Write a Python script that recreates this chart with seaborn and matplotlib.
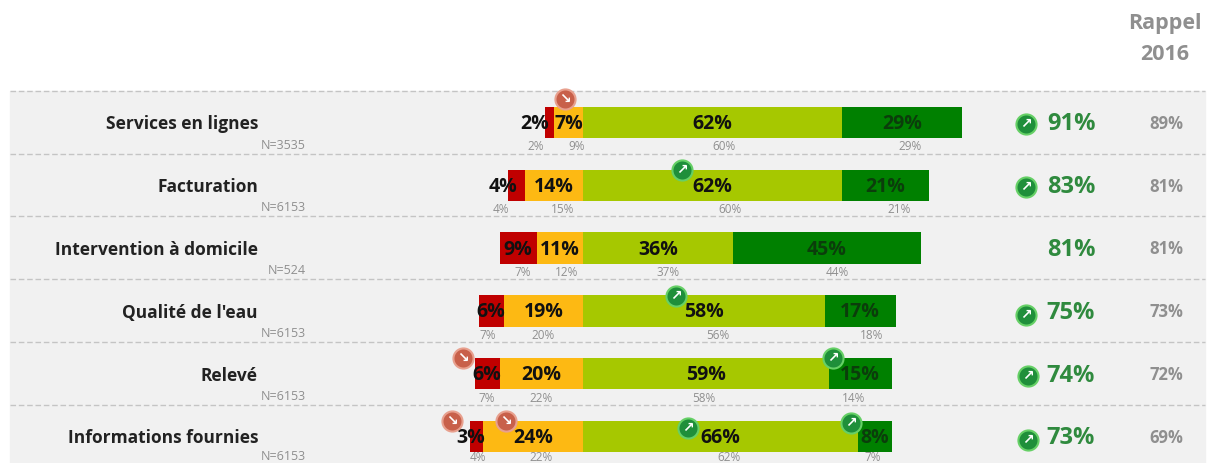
import matplotlib
matplotlib.use('Agg')
import matplotlib.pyplot as plt
import pandas as pd
import seaborn as sns

categories = ['Services en lignes', 'Facturation', 'Intervention à domicile',
              "Qualité de l'eau", 'Relevé', 'Informations fournies']
sample_sizes = ['N=3535', 'N=6153', 'N=524', 'N=6153', 'N=6153', 'N=6153']

very_bad = [2, 4, 9, 6, 6, 3]
bad = [7, 14, 11, 19, 20, 24]
good = [62, 62, 36, 58, 59, 66]
very_good = [29, 21, 45, 17, 15, 8]
satisfied = [91, 83, 81, 75, 74, 73]

very_bad_2016 = [2, 4, 7, 7, 7, 4]
bad_2016 = [9, 15, 12, 20, 22, 22]
good_2016 = [60, 60, 37, 56, 58, 62]
very_good_2016 = [29, 21, 44, 18, 14, 7]
rappel_2016 = [89, 81, 81, 73, 72, 69]

RED = '#c00000'
ORANGE = '#fdb913'
LIGHT_GREEN = '#a6c800'
DARK_GREEN = '#008000'
TEXT_GREEN = '#2f8a3e'
GREY = '#8f8f8f'

W, H = 1212, 463
ZERO_PX = 583      # pixel of the 0% boundary
PCT_PX = 4.17      # pixels per percent
ROW0_PX = 122.5
ROW_PX = 62.8

sns.set_theme(style='white')
plt.rcParams['font.family'] = ['Open Sans', 'DejaVu Sans']

df = pd.DataFrame({'cat': categories, 'vb': very_bad, 'b': bad, 'g': good, 'vg': very_good})
df['neg_total'] = -(df['vb'] + df['b'])
df['neg_inner'] = -df['b']
df['pos_total'] = df['g'] + df['vg']

fig = plt.figure(figsize=(W / 100, H / 100), dpi=100)
ax = fig.add_axes([0, 0, 1, 1])


def px_x(p):
    return (p - ZERO_PX) / PCT_PX


def px_y(p):
    return (p - ROW0_PX) / ROW_PX


# barres empilees : les plus longues d'abord, puis recouvertes
for col, color in [('pos_total', DARK_GREEN), ('g', LIGHT_GREEN),
                   ('neg_total', RED), ('neg_inner', ORANGE)]:
    sns.barplot(data=df, y='cat', x=col, color=color, width=0.5, saturation=1,
                orient='h', dodge=False, ax=ax, zorder=2, linewidth=0, edgecolor='none')

ax.set_xlim(px_x(0), px_x(W))
ax.set_ylim(px_y(H), px_y(0))
ax.axis('off')

# fond gris et lignes pointillees
ax.axhspan(px_y(91), px_y(H), xmin=10 / W, xmax=1205 / W, color='#f1f1f1', zorder=0)
for i in range(6):
    ax.plot([px_x(10), px_x(1205)], [i - 0.505] * 2, color='#c4c4c4', lw=1,
            ls=(0, (4, 2)), zorder=1)

# decalage des petits chiffres 2016 (px), le graphique d'origine n'est pas aligne
shift_vb_2016 = [-6, -11, 4, 3, 10, -5]
shift_b_2016 = [12, 11, 9, 2, 4, 4]
shift_pos_2016 = [16, 22, 8, 18, 0, 17]
shift_vb = [-15, -13, -1, -1, 0, -6]

SMALL = 8.5
INBAR = 14

for i, cat in enumerate(categories):
    # derniere ligne : remontee pour rester dans l'image
    y_n = i + (0.36 if i < 5 else 0.32)
    y16 = i + (0.39 if i < 5 else 0.33)
    y_bar = i + 0.025

    ax.text(px_x(258), i + 0.03, cat, ha='right', va='center', fontsize=12.5, fontweight='bold', color='#222222')
    ax.text(px_x(306), y_n, sample_sizes[i], ha='right', va='center', fontsize=9, color=GREY)

    # valeurs dans les barres
    ax.text(-(bad[i] + very_bad[i] / 2) + shift_vb[i] / PCT_PX, y_bar, f'{very_bad[i]}%',
            ha='center', va='center', fontsize=INBAR, fontweight='bold', color='#111111', zorder=4)
    ax.text(-bad[i] / 2, y_bar, f'{bad[i]}%', ha='center', va='center', fontsize=INBAR,
            fontweight='bold', color='#111111', zorder=4)
    ax.text(good[i] / 2, y_bar, f'{good[i]}%', ha='center', va='center', fontsize=INBAR,
            fontweight='bold', color='#111111', zorder=4)
    ax.text(good[i] + very_good[i] / 2, y_bar, f'{very_good[i]}%', ha='center', va='center',
            fontsize=INBAR, fontweight='bold', color='#0b3d0b', zorder=4)

    # rappel 2016 sous les barres
    ax.text(-(bad_2016[i] + very_bad_2016[i] / 2) + shift_vb_2016[i] / PCT_PX, y16,
            f'{very_bad_2016[i]}%', ha='center', va='center', fontsize=SMALL, color=GREY)
    ax.text(-bad_2016[i] / 2 + shift_b_2016[i] / PCT_PX, y16, f'{bad_2016[i]}%',
            ha='center', va='center', fontsize=SMALL, color=GREY)
    ax.text(good_2016[i] / 2 + shift_pos_2016[i] / PCT_PX, y16, f'{good_2016[i]}%',
            ha='center', va='center', fontsize=SMALL, color=GREY)
    ax.text(good_2016[i] + very_good_2016[i] / 2 + shift_pos_2016[i] / PCT_PX, y16,
            f'{very_good_2016[i]}%', ha='center', va='center', fontsize=SMALL, color=GREY)

    # colonnes de droite
    ax.text(px_x(1071), i + 0.03, f'{satisfied[i]}%', ha='center', va='center', fontsize=17,
            fontweight='bold', color=TEXT_GREEN)
    ax.text(px_x(1166), i + 0.02, f'{rappel_2016[i]}%', ha='center', va='center', fontsize=12,
            fontweight='bold', color=GREY)

ax.text(px_x(1165), px_y(23), 'Rappel', ha='center', va='center', fontsize=15.5,
        fontweight='bold', color=GREY)
ax.text(px_x(1165), px_y(55), '2016', ha='center', va='center', fontsize=15.5,
        fontweight='bold', color=GREY)

# pastilles d'evolution (pixels de l'image)
up_px = [(682, 170), (676, 296), (833, 358), (688, 428), (851, 423),
         (1026, 124), (1026, 187), (1026, 315), (1028, 376), (1028, 440)]
down_px = [(565, 99), (463, 358), (452, 421), (506, 421)]

for pts, fill, edge, arrow in [(up_px, '#1f8f3a', '#66d066', '↗'), (down_px, '#c8604a', '#e8a08e', '↘')]:
    sns.scatterplot(x=[px_x(p[0]) for p in pts], y=[px_y(p[1]) for p in pts], s=210, color=fill,
                    edgecolor=edge, linewidth=1.5, ax=ax, zorder=5, legend=False)
    for p in pts:
        ax.text(px_x(p[0]), px_y(p[1]), arrow, ha='center', va='center', fontsize=10,
                fontweight='bold', color='white', family='DejaVu Sans', zorder=6)

fig.savefig('out.png', dpi=100, facecolor='white')
